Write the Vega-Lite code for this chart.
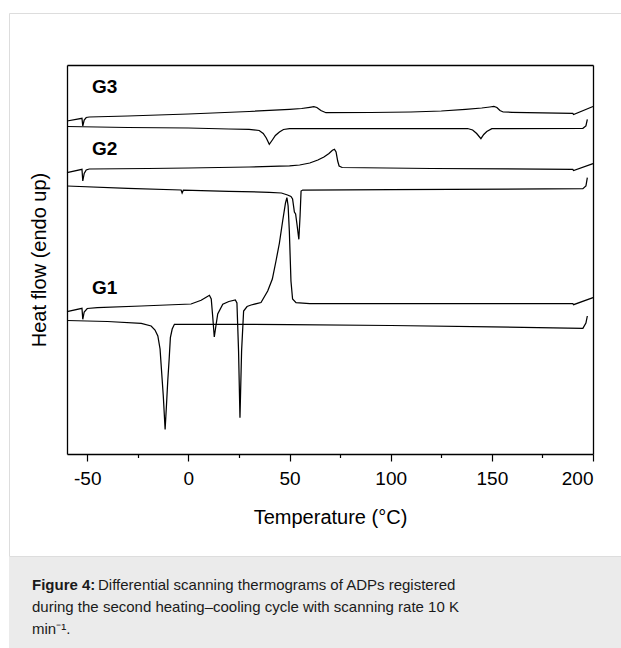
{
  "$schema": "https://vega.github.io/schema/vega-lite/v6.json",
  "background": "white",
  "padding": {"left": 8, "top": 12, "right": 0, "bottom": 0},
  "spacing": 0,
  "config": {"font": "Liberation Sans", "view": {"stroke": null}},
  "vconcat": [
    {
      "width": 614,
      "height": 543,
      "view": {"stroke": "#dddddd", "strokeWidth": 1, "fill": "white"},
      "data": {"values": [
        {"curve":"G3","run":"heating","T":-60,"HF":333},
        {"curve":"G3","run":"heating","T":-52.6,"HF":335.7},
        {"curve":"G3","run":"heating","T":-52.2,"HF":328},
        {"curve":"G3","run":"heating","T":-51.5,"HF":334},
        {"curve":"G3","run":"heating","T":-50.5,"HF":336.5},
        {"curve":"G3","run":"heating","T":-49,"HF":337},
        {"curve":"G3","run":"heating","T":-30,"HF":338},
        {"curve":"G3","run":"heating","T":0,"HF":340},
        {"curve":"G3","run":"heating","T":30,"HF":342.5},
        {"curve":"G3","run":"heating","T":50,"HF":344.7},
        {"curve":"G3","run":"heating","T":56,"HF":345.5},
        {"curve":"G3","run":"heating","T":60,"HF":346.7},
        {"curve":"G3","run":"heating","T":62,"HF":347.3},
        {"curve":"G3","run":"heating","T":63.5,"HF":346.5},
        {"curve":"G3","run":"heating","T":65.5,"HF":343.5},
        {"curve":"G3","run":"heating","T":68,"HF":341.3},
        {"curve":"G3","run":"heating","T":90,"HF":341.5},
        {"curve":"G3","run":"heating","T":110,"HF":342},
        {"curve":"G3","run":"heating","T":125,"HF":343},
        {"curve":"G3","run":"heating","T":137,"HF":344.7},
        {"curve":"G3","run":"heating","T":145,"HF":346},
        {"curve":"G3","run":"heating","T":149,"HF":347},
        {"curve":"G3","run":"heating","T":151,"HF":347.5},
        {"curve":"G3","run":"heating","T":152.5,"HF":346.5},
        {"curve":"G3","run":"heating","T":154,"HF":343.5},
        {"curve":"G3","run":"heating","T":155.6,"HF":342},
        {"curve":"G3","run":"heating","T":160,"HF":341.7},
        {"curve":"G3","run":"heating","T":190,"HF":340.7},
        {"curve":"G3","run":"heating","T":190.4,"HF":339.5},
        {"curve":"G3","run":"heating","T":200,"HF":347.5},

        {"curve":"G3","run":"cooling","T":-60,"HF":327.5},
        {"curve":"G3","run":"cooling","T":-30,"HF":326.5},
        {"curve":"G3","run":"cooling","T":0,"HF":326},
        {"curve":"G3","run":"cooling","T":20,"HF":325},
        {"curve":"G3","run":"cooling","T":30,"HF":324.7},
        {"curve":"G3","run":"cooling","T":35,"HF":323.5},
        {"curve":"G3","run":"cooling","T":37,"HF":320.5},
        {"curve":"G3","run":"cooling","T":38.5,"HF":316},
        {"curve":"G3","run":"cooling","T":40,"HF":309.7},
        {"curve":"G3","run":"cooling","T":41.5,"HF":314},
        {"curve":"G3","run":"cooling","T":43,"HF":318.5},
        {"curve":"G3","run":"cooling","T":45,"HF":322},
        {"curve":"G3","run":"cooling","T":47,"HF":324.5},
        {"curve":"G3","run":"cooling","T":50,"HF":325.3},
        {"curve":"G3","run":"cooling","T":100,"HF":325.5},
        {"curve":"G3","run":"cooling","T":138,"HF":325.5},
        {"curve":"G3","run":"cooling","T":140.5,"HF":324},
        {"curve":"G3","run":"cooling","T":142.5,"HF":320.5},
        {"curve":"G3","run":"cooling","T":144.6,"HF":315.3},
        {"curve":"G3","run":"cooling","T":146,"HF":319.5},
        {"curve":"G3","run":"cooling","T":147.5,"HF":322.5},
        {"curve":"G3","run":"cooling","T":150,"HF":325.3},
        {"curve":"G3","run":"cooling","T":195,"HF":325.7},
        {"curve":"G3","run":"cooling","T":196.5,"HF":328},
        {"curve":"G3","run":"cooling","T":197.2,"HF":334.7},

        {"curve":"G2","run":"heating","T":-60,"HF":281.3},
        {"curve":"G2","run":"heating","T":-52.6,"HF":284.7},
        {"curve":"G2","run":"heating","T":-52.2,"HF":273},
        {"curve":"G2","run":"heating","T":-51.5,"HF":280.5},
        {"curve":"G2","run":"heating","T":-50.5,"HF":284},
        {"curve":"G2","run":"heating","T":-49,"HF":285},
        {"curve":"G2","run":"heating","T":-20,"HF":285.5},
        {"curve":"G2","run":"heating","T":0,"HF":286},
        {"curve":"G2","run":"heating","T":30,"HF":287},
        {"curve":"G2","run":"heating","T":45,"HF":287.8},
        {"curve":"G2","run":"heating","T":50,"HF":288.2},
        {"curve":"G2","run":"heating","T":55,"HF":289},
        {"curve":"G2","run":"heating","T":60,"HF":291},
        {"curve":"G2","run":"heating","T":64,"HF":294},
        {"curve":"G2","run":"heating","T":67,"HF":297},
        {"curve":"G2","run":"heating","T":69.5,"HF":300.5},
        {"curve":"G2","run":"heating","T":71.2,"HF":303.7},
        {"curve":"G2","run":"heating","T":72.2,"HF":304.7},
        {"curve":"G2","run":"heating","T":73,"HF":302},
        {"curve":"G2","run":"heating","T":73.8,"HF":293},
        {"curve":"G2","run":"heating","T":74.5,"HF":288},
        {"curve":"G2","run":"heating","T":76,"HF":286.5},
        {"curve":"G2","run":"heating","T":120,"HF":285.5},
        {"curve":"G2","run":"heating","T":190,"HF":284.7},
        {"curve":"G2","run":"heating","T":190.4,"HF":283.5},
        {"curve":"G2","run":"heating","T":200,"HF":290.3},

        {"curve":"G2","run":"cooling","T":-60,"HF":268},
        {"curve":"G2","run":"cooling","T":-30,"HF":265.7},
        {"curve":"G2","run":"cooling","T":-3.6,"HF":264},
        {"curve":"G2","run":"cooling","T":-3.1,"HF":261},
        {"curve":"G2","run":"cooling","T":-2.5,"HF":263.8},
        {"curve":"G2","run":"cooling","T":20,"HF":262.7},
        {"curve":"G2","run":"cooling","T":40,"HF":261.7},
        {"curve":"G2","run":"cooling","T":46,"HF":261},
        {"curve":"G2","run":"cooling","T":49,"HF":259},
        {"curve":"G2","run":"cooling","T":50.7,"HF":257.5},
        {"curve":"G2","run":"cooling","T":51.5,"HF":255},
        {"curve":"G2","run":"cooling","T":52.4,"HF":242},
        {"curve":"G2","run":"cooling","T":53,"HF":240},
        {"curve":"G2","run":"cooling","T":53.6,"HF":231},
        {"curve":"G2","run":"cooling","T":54.6,"HF":214.7},
        {"curve":"G2","run":"cooling","T":55.2,"HF":238},
        {"curve":"G2","run":"cooling","T":55.7,"HF":263},
        {"curve":"G2","run":"cooling","T":56.5,"HF":264},
        {"curve":"G2","run":"cooling","T":100,"HF":264.3},
        {"curve":"G2","run":"cooling","T":195,"HF":265.3},
        {"curve":"G2","run":"cooling","T":196.5,"HF":268},
        {"curve":"G2","run":"cooling","T":197.2,"HF":276.3},

        {"curve":"G1","run":"heating","T":-60,"HF":142.3},
        {"curve":"G1","run":"heating","T":-52.6,"HF":145.7},
        {"curve":"G1","run":"heating","T":-52.2,"HF":134.7},
        {"curve":"G1","run":"heating","T":-51.5,"HF":142},
        {"curve":"G1","run":"heating","T":-50,"HF":145.5},
        {"curve":"G1","run":"heating","T":-45,"HF":146.3},
        {"curve":"G1","run":"heating","T":-23.3,"HF":148},
        {"curve":"G1","run":"heating","T":1.3,"HF":150},
        {"curve":"G1","run":"heating","T":6.3,"HF":153.7},
        {"curve":"G1","run":"heating","T":9,"HF":157},
        {"curve":"G1","run":"heating","T":10.4,"HF":158.7},
        {"curve":"G1","run":"heating","T":11.3,"HF":155},
        {"curve":"G1","run":"heating","T":12,"HF":138},
        {"curve":"G1","run":"heating","T":12.8,"HF":117},
        {"curve":"G1","run":"heating","T":13.6,"HF":128},
        {"curve":"G1","run":"heating","T":14.5,"HF":140},
        {"curve":"G1","run":"heating","T":17,"HF":149.7},
        {"curve":"G1","run":"heating","T":20,"HF":152.5},
        {"curve":"G1","run":"heating","T":23.2,"HF":154},
        {"curve":"G1","run":"heating","T":24,"HF":151},
        {"curve":"G1","run":"heating","T":24.8,"HF":103},
        {"curve":"G1","run":"heating","T":25.5,"HF":36.3},
        {"curve":"G1","run":"heating","T":26.3,"HF":103},
        {"curve":"G1","run":"heating","T":27.3,"HF":143},
        {"curve":"G1","run":"heating","T":29,"HF":147.5},
        {"curve":"G1","run":"heating","T":31,"HF":149},
        {"curve":"G1","run":"heating","T":35.9,"HF":151.5},
        {"curve":"G1","run":"heating","T":39.2,"HF":163},
        {"curve":"G1","run":"heating","T":41.5,"HF":175},
        {"curve":"G1","run":"heating","T":43.3,"HF":193},
        {"curve":"G1","run":"heating","T":45,"HF":211},
        {"curve":"G1","run":"heating","T":46.6,"HF":233},
        {"curve":"G1","run":"heating","T":48,"HF":251},
        {"curve":"G1","run":"heating","T":48.7,"HF":256.3},
        {"curve":"G1","run":"heating","T":49.3,"HF":248},
        {"curve":"G1","run":"heating","T":49.9,"HF":223},
        {"curve":"G1","run":"heating","T":50.7,"HF":173},
        {"curve":"G1","run":"heating","T":51.5,"HF":155},
        {"curve":"G1","run":"heating","T":53.2,"HF":151.3},
        {"curve":"G1","run":"heating","T":60,"HF":150.3},
        {"curve":"G1","run":"heating","T":190,"HF":150.3},
        {"curve":"G1","run":"heating","T":190.4,"HF":149.3},
        {"curve":"G1","run":"heating","T":200,"HF":156.3},

        {"curve":"G1","run":"cooling","T":-60,"HF":133.5},
        {"curve":"G1","run":"cooling","T":-40,"HF":132.5},
        {"curve":"G1","run":"cooling","T":-23.3,"HF":130.7},
        {"curve":"G1","run":"cooling","T":-18.4,"HF":128},
        {"curve":"G1","run":"cooling","T":-16.5,"HF":124},
        {"curve":"G1","run":"cooling","T":-15.1,"HF":118},
        {"curve":"G1","run":"cooling","T":-14,"HF":105},
        {"curve":"G1","run":"cooling","T":-13.5,"HF":90},
        {"curve":"G1","run":"cooling","T":-12.4,"HF":58},
        {"curve":"G1","run":"cooling","T":-11.5,"HF":24.5},
        {"curve":"G1","run":"cooling","T":-10.8,"HF":50},
        {"curve":"G1","run":"cooling","T":-10.2,"HF":73},
        {"curve":"G1","run":"cooling","T":-9.5,"HF":95},
        {"curve":"G1","run":"cooling","T":-8.9,"HF":116.3},
        {"curve":"G1","run":"cooling","T":-8,"HF":125},
        {"curve":"G1","run":"cooling","T":-6.9,"HF":129.7},
        {"curve":"G1","run":"cooling","T":50,"HF":129.5},
        {"curve":"G1","run":"cooling","T":100,"HF":128.5},
        {"curve":"G1","run":"cooling","T":150,"HF":127.2},
        {"curve":"G1","run":"cooling","T":195,"HF":125.7},
        {"curve":"G1","run":"cooling","T":196.5,"HF":131},
        {"curve":"G1","run":"cooling","T":197.2,"HF":138}
      ]},
      "layer": [
        {
          "transform": [{"filter": {"field": "run", "equal": "heating"}}],
          "mark": {"type": "line", "color": "black", "strokeWidth": 1.25},
          "encoding": {
            "x": {"field": "T", "type": "quantitative",
              "scale": {"domain": [-60, 200], "range": [58, 584], "nice": false, "zero": false},
              "axis": {"orient": "bottom", "offset": -102, "values": [-50, 0, 50, 100, 150, 200],
                "grid": false, "tickSize": 7, "tickColor": "black", "tickWidth": 1.2,
                "domainColor": "black", "domainWidth": 1.3,
                "labelFontSize": 19, "labelColor": "black", "labelPadding": 8, "labelFont": "Liberation Sans",
                "labelExpr": "replace(datum.label, '\u2212', '-')",
                "title": "Temperature (°C)", "titleFontSize": 20, "titleFontWeight": "normal",
                "titleColor": "black", "titlePadding": 19, "titleFont": "Liberation Sans"}},
            "y": {"field": "HF", "type": "quantitative",
              "scale": {"domain": [0, 389], "range": [441, 52], "nice": false, "zero": false},
              "axis": {"orient": "left", "offset": -58, "ticks": false, "labels": false, "grid": false,
                "domainColor": "black", "domainWidth": 1.3,
                "title": "Heat flow (endo up)", "titleFontSize": 20, "titleFontWeight": "normal",
                "titleColor": "black", "titlePadding": 18, "titleFont": "Liberation Sans"}},
            "detail": {"field": "curve"}
          }
        },
        {
          "transform": [{"filter": {"field": "run", "equal": "cooling"}}],
          "mark": {"type": "line", "color": "black", "strokeWidth": 1.25},
          "encoding": {
            "x": {"field": "T", "type": "quantitative",
              "scale": {"domain": [-60, 200], "range": [58, 584], "nice": false, "zero": false},
              "axis": {"orient": "top", "offset": -52, "ticks": false, "labels": false, "grid": false,
                "domainColor": "black", "domainWidth": 1.3, "title": null}},
            "y": {"field": "HF", "type": "quantitative",
              "scale": {"domain": [0, 389], "range": [441, 52], "nice": false, "zero": false},
              "axis": {"orient": "right", "offset": -30, "ticks": false, "labels": false, "grid": false,
                "domainColor": "black", "domainWidth": 1.3, "title": null}},
            "detail": {"field": "curve"}
          }
        },
        {
          "data": {"values": [
            {"label": "G3", "T": -47.6, "HF": 367},
            {"label": "G2", "T": -47.6, "HF": 305},
            {"label": "G1", "T": -47.6, "HF": 166}
          ]},
          "mark": {"type": "text", "fontSize": 19, "fontWeight": "bold", "align": "left", "baseline": "middle", "color": "black", "font": "Liberation Sans"},
          "encoding": {
            "x": {"field": "T", "type": "quantitative",
              "scale": {"domain": [-60, 200], "range": [58, 584], "nice": false, "zero": false},
              "axis": {"orient": "bottom", "offset": -102, "values": [-25, 25, 75, 125, 175],
                "grid": false, "tickSize": 3.5, "tickColor": "black", "tickWidth": 1.2,
                "domain": false, "labels": false, "title": null}},
            "y": {"field": "HF", "type": "quantitative",
              "scale": {"domain": [0, 389], "range": [441, 52], "nice": false, "zero": false},
              "axis": null},
            "text": {"field": "label"}
          }
        }
      ],
      "resolve": {
        "scale": {"x": "independent", "y": "independent"},
        "axis": {"x": "independent", "y": "independent"}
      }
    },
    {
      "width": 614,
      "height": 93,
      "view": {"fill": "#ebebeb", "stroke": null},
      "data": {"values": [
        {"line": 1, "segment": 1, "part": "figure", "text": "Figure 4:"},
        {"line": 1, "segment": 2, "part": "body", "text": "Differential scanning thermograms of ADPs registered"},
        {"line": 2, "segment": 1, "part": "body", "text": "during the second heating–cooling cycle with scanning rate 10 K"},
        {"line": 3, "segment": 1, "part": "body", "text": "min⁻¹."}
      ]},
      "layer": [
        {
          "transform": [{"filter": {"field": "part", "equal": "figure"}}],
          "mark": {"type": "text", "fontSize": 15, "fontWeight": "bold", "align": "left", "baseline": "alphabetic", "color": "#1a1a1a", "font": "Liberation Sans"},
          "encoding": {
            "x": {"field": "segment", "type": "ordinal", "scale": {"type": "point", "domain": [1, 2], "range": [23, 89], "padding": 0}, "axis": null},
            "y": {"field": "line", "type": "ordinal", "scale": {"type": "point", "domain": [1, 2, 3], "range": [33, 77], "padding": 0}, "axis": null},
            "text": {"field": "text"}
          }
        },
        {
          "transform": [{"filter": {"field": "part", "equal": "body"}}],
          "mark": {"type": "text", "fontSize": 15, "align": "left", "baseline": "alphabetic", "color": "#1a1a1a", "font": "Liberation Sans"},
          "encoding": {
            "x": {"field": "segment", "type": "ordinal", "scale": {"type": "point", "domain": [1, 2], "range": [23, 89], "padding": 0}, "axis": null},
            "y": {"field": "line", "type": "ordinal", "scale": {"type": "point", "domain": [1, 2, 3], "range": [33, 77], "padding": 0}, "axis": null},
            "text": {"field": "text"}
          }
        }
      ]
    }
  ]
}
